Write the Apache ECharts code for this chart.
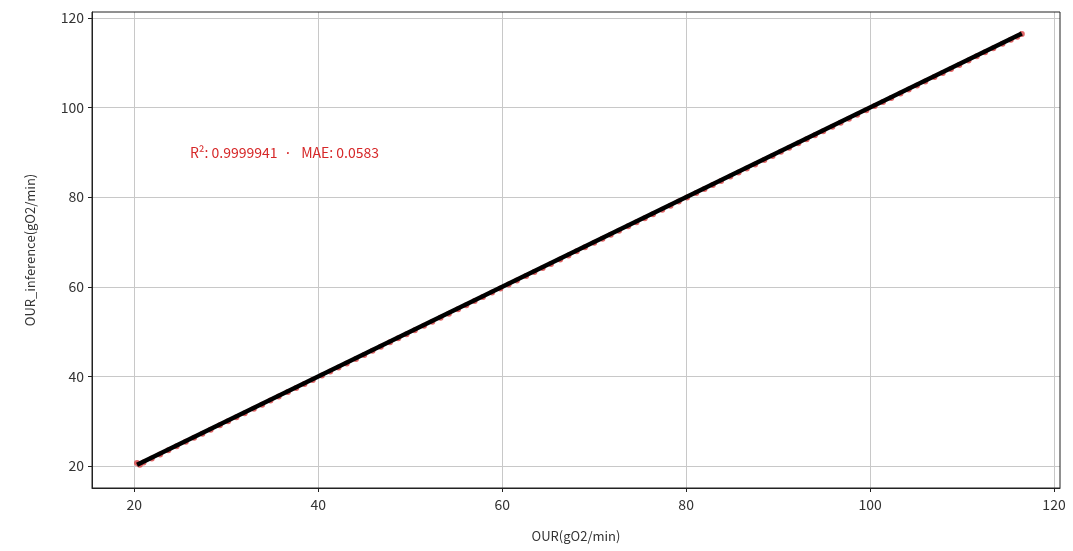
<!DOCTYPE html>
<html>
<head>
<meta charset="utf-8">
<script src="https://cdn.jsdelivr.net/npm/echarts@6/dist/echarts.min.js"></script>
<style>
html,body{margin:0;padding:0;background:#fff;}
#c{width:1073px;height:551px;}
</style>
</head>
<body>
<div id="c"></div>
<script>
// Data
const ourActual = [20.3, 20.6, 21.0, 21.9, 22.8, 23.7, 24.6, 25.6, 26.5, 27.4, 28.3, 29.3, 30.2, 31.1, 32.0, 33.0, 33.9, 34.8, 35.7, 36.7, 37.6, 38.5, 39.4, 40.4, 41.3, 42.2, 43.1, 44.1, 45.0, 45.9, 46.8, 47.8, 48.7, 49.6, 50.5, 51.5, 52.4, 53.3, 54.2, 55.2, 56.1, 57.0, 57.9, 58.9, 59.8, 60.7, 61.6, 62.6, 63.5, 64.4, 65.3, 66.3, 67.2, 68.1, 69.0, 70.0, 70.9, 71.8, 72.7, 73.7, 74.6, 75.5, 76.4, 77.4, 78.3, 79.2, 80.1, 81.1, 82.0, 82.9, 83.8, 84.8, 85.7, 86.6, 87.5, 88.5, 89.4, 90.3, 91.2, 92.2, 93.1, 94.0, 94.9, 95.9, 96.8, 97.7, 98.6, 99.6, 100.5, 101.4, 102.3, 103.3, 104.2, 105.1, 106.0, 107.0, 107.9, 108.8, 109.7, 110.7, 111.6, 112.5, 113.4, 114.4, 115.3, 116.0, 116.5];
const ourInference = [20.7, 20.3, 20.8, 21.7, 22.6, 23.5, 24.4, 25.4, 26.3, 27.2, 28.1, 29.1, 30.0, 30.9, 31.8, 32.8, 33.7, 34.6, 35.5, 36.5, 37.4, 38.3, 39.2, 40.2, 41.1, 42.0, 42.9, 43.9, 44.8, 45.7, 46.6, 47.6, 48.5, 49.4, 50.3, 51.3, 52.2, 53.1, 54.0, 55.0, 55.9, 56.8, 57.7, 58.7, 59.6, 60.5, 61.4, 62.4, 63.3, 64.2, 65.1, 66.1, 67.0, 67.9, 68.8, 69.8, 70.7, 71.6, 72.5, 73.5, 74.4, 75.3, 76.2, 77.2, 78.1, 79.0, 79.9, 80.9, 81.8, 82.7, 83.6, 84.6, 85.5, 86.4, 87.3, 88.3, 89.2, 90.1, 91.0, 92.0, 92.9, 93.8, 94.7, 95.7, 96.6, 97.5, 98.4, 99.4, 100.3, 101.2, 102.1, 103.1, 104.0, 104.9, 105.8, 106.8, 107.7, 108.6, 109.5, 110.5, 111.4, 112.3, 113.2, 114.2, 115.1, 115.8, 116.4];
const idealLine = [[20.3, 20.3], [116.5, 116.5]];
const xTicks = [20, 40, 60, 80, 100, 120];
const yTicks = [20, 40, 60, 80, 100, 120];
const xAxisTitle = 'OUR(gO2/min)';
const yAxisTitle = 'OUR_inference(gO2/min)';
const annotationText = 'R²: 0.9999941  ·   MAE: 0.0583';
const annotationPos = [25.5, 90];

const chart = echarts.init(document.getElementById('c'));
const font = '"Noto Sans CJK KR", "Noto Sans", sans-serif';
const points = ourActual.map((x, i) => [x, ourInference[i]]);

chart.setOption({
  animation: false,
  backgroundColor: '#fff',
  grid: {left: 92, right: 13, top: 12, bottom: 63, containLabel: false},
  xAxis: {
    type: 'value', min: 15.4, max: 120.65,
    name: xAxisTitle, nameLocation: 'middle', nameGap: 42,
    nameTextStyle: {fontFamily: font, fontSize: 13, color: '#333'},
    axisLine: {show: true, onZero: false, lineStyle: {color: '#222', width: 1}},
    axisTick: {show: true, length: 4, lineStyle: {color: '#222'}, customValues: xTicks},
    axisLabel: {fontFamily: font, fontSize: 14, color: '#333', margin: 10, customValues: xTicks, showMinLabel: true, showMaxLabel: true},
    splitLine: {show: true, lineStyle: {color: '#c8c8c8', width: 1}, customValues: xTicks}
  },
  yAxis: {
    type: 'value', min: 15.1, max: 121.3,
    name: yAxisTitle, nameLocation: 'middle', nameGap: 55, nameRotate: 90,
    nameTextStyle: {fontFamily: font, fontSize: 13, color: '#333'},
    axisLine: {show: true, onZero: false, lineStyle: {color: '#222', width: 1}},
    axisTick: {show: true, length: 4, lineStyle: {color: '#222'}, customValues: yTicks},
    axisLabel: {fontFamily: font, fontSize: 14, color: '#333', margin: 8, customValues: yTicks, showMinLabel: true, showMaxLabel: true},
    splitLine: {show: true, lineStyle: {color: '#c8c8c8', width: 1}, customValues: yTicks}
  },
  series: [
    {
      type: 'scatter', data: points, symbolSize: 6,
      itemStyle: {color: '#d62728', opacity: 0.7}, z: 2
    },
    {
      type: 'line', data: idealLine, symbol: 'none',
      lineStyle: {color: '#000', width: 4.5}, z: 3,
      markPoint: {
        symbol: 'rect', symbolSize: 0,
        data: [{coord: annotationPos, value: annotationText}],
        label: {show: true, position: 'right', formatter: annotationText, color: '#d62728', fontFamily: font, fontSize: 14}
      }
    }
  ],
  graphic: [{
    type: 'rect', shape: {x: 92, y: 12, width: 968, height: 476},
    style: {fill: null, stroke: '#222', lineWidth: 1}, silent: true, z: 10
  }]
});
</script>
</body>
</html>
